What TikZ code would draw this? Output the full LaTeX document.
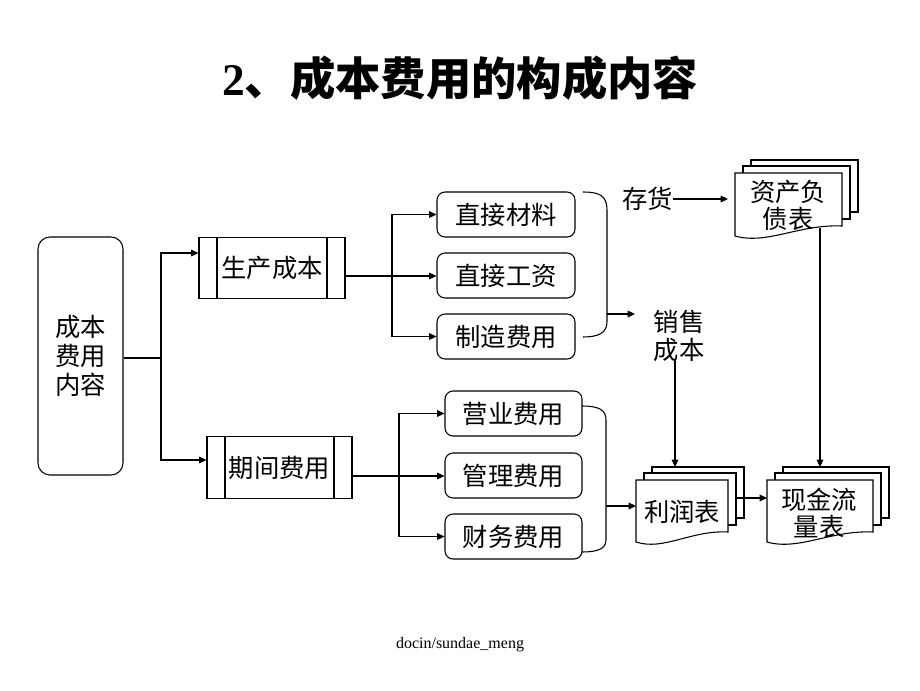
\documentclass[tikz,border=0pt]{standalone}
\usepackage{fontspec}
\setmainfont{Liberation Serif}
\newfontfamily\cjk{Noto Sans CJK SC}
\usetikzlibrary{arrows.meta,calc}
\newcommand\docstack[4]{% x1 x2 ytop ybot
  \draw[sheet] ({#1+16},{#3-13}) rectangle ({#2+16},{#4-24});
  \draw[sheet] ({#1+8},{#3-7}) rectangle ({#2+8},{#4-17});
  \draw[sheet] (#1,#3) -- (#2,#3) -- (#2,{#4-10})
    .. controls ({#2-(#2-#1)*0.4},{#4-12}) and ({#1+(#2-#1)*0.3},{#4+9}) .. (#1,#4) -- cycle;
}
\begin{document}
\begin{tikzpicture}[x=0.75pt,y=-0.75pt, line width=0.8pt,
  arr/.style={-{Triangle[length=5.5pt,width=5pt]}},
  lbl/.style={font=\cjk\fontsize{19}{22}\selectfont, inner sep=0pt, align=center},
  rootbox/.style={draw, rounded corners=9pt, minimum width=63.75pt, minimum height=178.5pt, lbl},
  procbox/.style={draw, lbl, minimum height=46pt,
    path picture={\draw ([xshift=13.5pt]path picture bounding box.north west) -- ([xshift=13.5pt]path picture bounding box.south west)
      ([xshift=-13.5pt]path picture bounding box.north east) -- ([xshift=-13.5pt]path picture bounding box.south east);}},
  itembox/.style={draw, rounded corners=6pt, lbl, minimum width=103.5pt, minimum height=33.75pt},
  sheet/.style={draw, fill=white}
]
\useasboundingbox (0,0) rectangle (920,690);

% title and footer
\node[font=\fontsize{34}{40}\selectfont\bfseries] (title) at (460,78) {2\cjk 、成本费用的构成内容};
\node[font=\fontsize{12}{14}\selectfont] (foot) at (460,645) {docin/sundae\_meng};

% boxes
\node[rootbox, font=\cjk\fontsize{19}{21.75}\selectfont] (root) at (80.5,356) {成本\\费用\\内容};
\node[procbox, minimum width=109.5pt] (scb) at (272,268) {生产成本};
\node[procbox, minimum width=108.75pt] (qj) at (279.5,467.5) {期间费用};

\node[itembox] (zjcl) at (506,214.5) {直接材料};
\node[itembox] (zjgz) at (506,275.5) {直接工资};
\node[itembox] (zzfy) at (506,336.5) {制造费用};

\node[itembox, minimum width=102.75pt] (yyfy) at (513.5,413.5) {营业费用};
\node[itembox, minimum width=102.75pt] (glfy) at (513.5,475.5) {管理费用};
\node[itembox, minimum width=102.75pt] (cwfy) at (513.5,536.5) {财务费用};

% stacked documents
\docstack{735}{842}{173}{236}
\docstack{636}{728}{480}{542}
\docstack{767}{873}{480}{542}
\node[lbl, font=\cjk\fontsize{19}{20}\selectfont] (zcfz) at (788,205.5) {资产负\\债表};
\node[lbl] (lrb) at (682,512) {利润表};
\node[lbl, font=\cjk\fontsize{19}{20}\selectfont] (xjll) at (819,513) {现金流\\量表};

% free labels
\node[lbl] (ch) at (647.5,199) {存货};
\node[lbl, font=\cjk\fontsize{19}{21}\selectfont] (xs) at (679,336) {销售\\成本};

% coordinates
\coordinate (j1) at (161,358);
\coordinate (j2) at (392,276);
\coordinate (j3) at (399,476);
\coordinate (b1) at (607,314);
\coordinate (b1e) at (635,314);
\coordinate (b2) at (606,506);
\coordinate (lrbin) at (636,506);
\coordinate (chend) at (728,199);
\coordinate (zcout) at (820,228);
\coordinate (xjtop) at (820,467);
\coordinate (xsout) at (675,360);
\coordinate (lrtop) at (675,467);
\coordinate (lrout) at (736,498);
\coordinate (xjin) at (767,498);

% connectors
\draw (root.east |- j1) -- (j1);
\draw[arr] (j1) |- (scb.west |- 0,253);
\draw[arr] (j1) |- (qj.west |- 0,460);

\draw[arr] (scb.east |- j2) -- (zjgz.west |- j2);
\draw[arr] (j2) |- (zjcl.west);
\draw[arr] (j2) |- (zzfy.west);

\draw[arr] (qj.east |- j3) -- (glfy.west |- j3);
\draw[arr] (j3) |- (yyfy.west);
\draw[arr] (j3) |- (cwfy.west);

% braces
\draw (583,192) .. controls (600,192) and (607,196) .. (607,210) -- (607,322)
  .. controls (607,333) and (598,337) .. (583,337);
\draw (582,406) .. controls (599,406) and (606,410) .. (606,420) -- (606,540)
  .. controls (606,549) and (597,552) .. (582,552);

\draw[arr] (b1) -- (b1e);
\draw[arr] (b2) -- (lrbin);
\draw[arr] (ch.east) -- (chend);
\draw[arr] (zcout) -- (xjtop);
\draw[arr] (xsout) -- (lrtop);
\draw[arr] (lrout) -- (xjin);
\end{tikzpicture}
\end{document}
